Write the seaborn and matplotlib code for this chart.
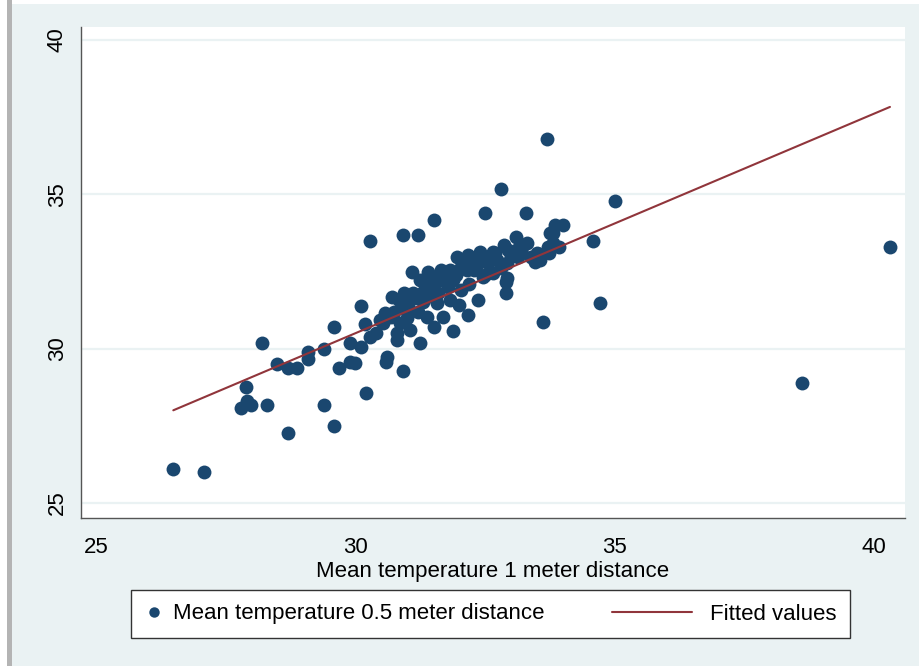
import matplotlib
matplotlib.use("Agg")
import matplotlib.pyplot as plt
import seaborn as sns
import pandas as pd
from matplotlib.lines import Line2D
from matplotlib.legend_handler import HandlerBase
from matplotlib.patches import Rectangle

# ---------------- data ----------------
mean_temp_1m = [
    26.49, 27.08, 28.71, 29.59, 29.40, 30.21, 28.30, 27.80, 27.92, 27.99,
    27.90, 28.20, 28.49, 28.71, 28.88, 29.09, 29.09, 29.40, 29.59, 29.69,
    29.90, 30.00, 30.10, 30.19, 29.90, 30.10, 30.60, 30.91, 30.29, 30.91,
    31.20, 31.51, 32.51, 32.80, 33.30, 33.69, 35.00, 34.59, 34.71, 33.61,
    38.61, 40.31, 30.29, 30.54, 30.68, 30.81, 31.06, 31.25, 31.51, 31.89,
    31.10, 31.41, 30.71, 30.48, 30.58, 30.93, 31.12, 31.02, 31.25, 31.49,
    31.64, 31.78, 31.97, 32.22, 32.03, 32.28, 32.47, 32.37, 32.18, 31.70,
    30.81, 30.87, 31.39, 31.58, 31.83, 32.03, 31.78, 30.62,
    33.09, 32.86, 33.32, 32.66, 32.41, 32.18, 32.28, 31.83, 32.55, 32.93,
    33.38, 33.57, 33.71, 33.86, 34.00, 33.82, 33.92, 32.93, 32.90, 32.66,
    32.47, 33.13, 32.74, 31.89, 33.76, 33.82, 33.51, 33.47,
    32.10, 32.60, 33.20, 31.40, 31.60, 32.20, 32.50, 30.90, 31.00, 30.40,
    31.30, 33.00, 32.80, 32.00, 31.20, 31.66, 31.31, 30.85, 32.90, 33.19,
    33.73,
    31.15, 31.35, 31.55, 31.75, 31.95, 32.15, 32.35, 32.45, 32.70, 32.95,
    33.15, 30.95, 30.75, 31.45, 32.25, 33.55, 32.05,
]
mean_temp_05m = [
    26.10, 26.00, 27.27, 27.49, 28.17, 28.56, 28.17, 28.07, 28.30, 28.17,
    28.75, 30.18, 29.50, 29.37, 29.37, 29.89, 29.66, 29.98, 30.70, 29.37,
    29.56, 29.53, 31.38, 30.79, 30.18, 30.05, 29.56, 29.27, 33.48, 33.67,
    33.67, 34.16, 34.39, 35.16, 34.39, 36.78, 34.77, 33.48, 31.47, 30.86,
    28.88, 33.28, 30.37, 30.83, 31.02, 30.50, 30.60, 30.18, 30.70, 30.57,
    32.48, 32.48, 31.67, 30.92, 31.15, 31.80, 31.80, 31.34, 32.22, 32.12,
    32.22, 32.44, 32.96, 32.96, 32.64, 32.54, 32.86, 31.57, 31.08, 31.02,
    30.28, 30.83, 31.02, 31.47, 31.57, 31.89, 31.99, 29.72,
    33.61, 33.35, 33.41, 33.12, 33.12, 33.03, 32.77, 32.54, 32.77, 32.77,
    32.96, 32.86, 33.28, 34.00, 34.00, 33.74, 33.28, 32.28, 31.80, 32.44,
    32.31, 32.96, 32.86, 32.22, 33.74, 33.41, 33.09, 32.80,
    32.70, 33.00, 33.20, 31.90, 31.80, 32.10, 32.40, 31.30, 31.00, 30.50,
    31.50, 33.00, 32.60, 31.40, 31.20, 32.54, 31.83, 31.57, 32.15, 33.19,
    33.09,
    31.65, 32.05, 32.30, 32.20, 32.40, 32.55, 32.70, 32.95, 33.10, 33.20,
    33.30, 31.55, 31.20, 31.70, 32.85, 33.05, 32.85,
]
fitted_x = [26.49, 40.31]
fitted_y = [28.00, 37.83]

x_ticks = [25, 30, 35, 40]
y_ticks = [25, 30, 35, 40]
x_label = "Mean temperature 1 meter distance"
scatter_label = "Mean temperature 0.5 meter distance"
fit_label = "Fitted values"

# ---------------- style ----------------
BG = "#EAF2F3"
NAVY = "#1A476F"
MAROON = "#90353B"
AXC = "#555555"

sns.set_theme(style="white")
plt.rcParams["font.family"] = ["Liberation Sans", "DejaVu Sans"]

W, H = 920, 666
fig = plt.figure(figsize=(W / 100, H / 100), dpi=100, facecolor="white")
fig.patches.append(Rectangle((12 / W, 0), 1 - 12 / W, 1 - 4 / H,
                             transform=fig.transFigure, facecolor=BG,
                             edgecolor="none", zorder=-10))
fig.patches.append(Rectangle((7 / W, 0), 5 / W, 1, transform=fig.transFigure,
                             facecolor="#B4B4B4", edgecolor="none", zorder=-10))

ax = fig.add_axes([81 / W, 1 - 518 / H, (905 - 81) / W, (518 - 27) / H])
ax.set_zorder(1)
ax.set_facecolor("white")

df = pd.DataFrame({"x": mean_temp_1m, "y": mean_temp_05m})
fit = pd.DataFrame({"x": fitted_x, "y": fitted_y})

sns.scatterplot(data=df, x="x", y="y", ax=ax, color=NAVY, s=100,
                linewidth=0, alpha=1, zorder=3, legend=False)
sns.lineplot(data=fit, x="x", y="y", ax=ax, color=MAROON, linewidth=1.5,
             zorder=4, legend=False)

ax.set_xlim(24.71, 40.60)
ax.set_ylim(24.51, 40.42)
ax.set_xticks(x_ticks)
ax.set_yticks(y_ticks)
ax.set_xticklabels([str(t) for t in x_ticks])
ax.set_yticklabels([str(t) for t in y_ticks], rotation=90, va="center")
ax.yaxis.grid(True, color=BG, linewidth=1.6)
ax.xaxis.grid(False)
ax.set_axisbelow(True)

for side in ["top", "right"]:
    ax.spines[side].set_visible(False)
for side in ["left", "bottom"]:
    ax.spines[side].set_color(AXC)
    ax.spines[side].set_linewidth(1.0)

ax.tick_params(axis="both", which="major", direction="out", length=6.5,
               width=1.0, color=AXC, labelsize=16, labelcolor="black")
ax.tick_params(axis="x", pad=7.5)
ax.tick_params(axis="y", pad=3)
ax.set_xlabel(x_label, fontsize=16, color="black", labelpad=2)
ax.set_ylabel("")


class LongLineHandler(HandlerBase):
    def __init__(self, ext, **kw):
        super().__init__(**kw)
        self.ext = ext

    def create_artists(self, legend, orig_handle, xdescent, ydescent, width,
                       height, fontsize, trans):
        y = height / 2 - ydescent
        line = Line2D([-xdescent - self.ext * fontsize,
                       -xdescent + width - 0.35 * fontsize], [y, y],
                      color=orig_handle.get_color(),
                      linewidth=orig_handle.get_linewidth())
        line.set_transform(trans)
        return [line]


h_scatter = Line2D([], [], marker="o", linestyle="", color=NAVY,
                   markersize=7.5, markeredgewidth=0)
h_fit = Line2D([], [], color=MAROON, linewidth=1.5)

leg = fig.legend(handles=[h_scatter, h_fit], labels=[scatter_label, fit_label],
                 handler_map={h_fit: LongLineHandler(3.15)},
                 loc="center", bbox_to_anchor=(490.5 / W, 1 - 614 / H),
                 ncol=2, fontsize=16, frameon=True, fancybox=False,
                 framealpha=1, handlelength=0.8, handletextpad=0.45,
                 columnspacing=6.2, borderpad=0.6, borderaxespad=0)
leg.get_frame().set_edgecolor("#333333")
leg.get_frame().set_linewidth(1.0)
leg.get_frame().set_facecolor("white")
for t in leg.get_texts():
    t.set_color("black")

fig.savefig("out.png", dpi=100, facecolor=fig.get_facecolor())
